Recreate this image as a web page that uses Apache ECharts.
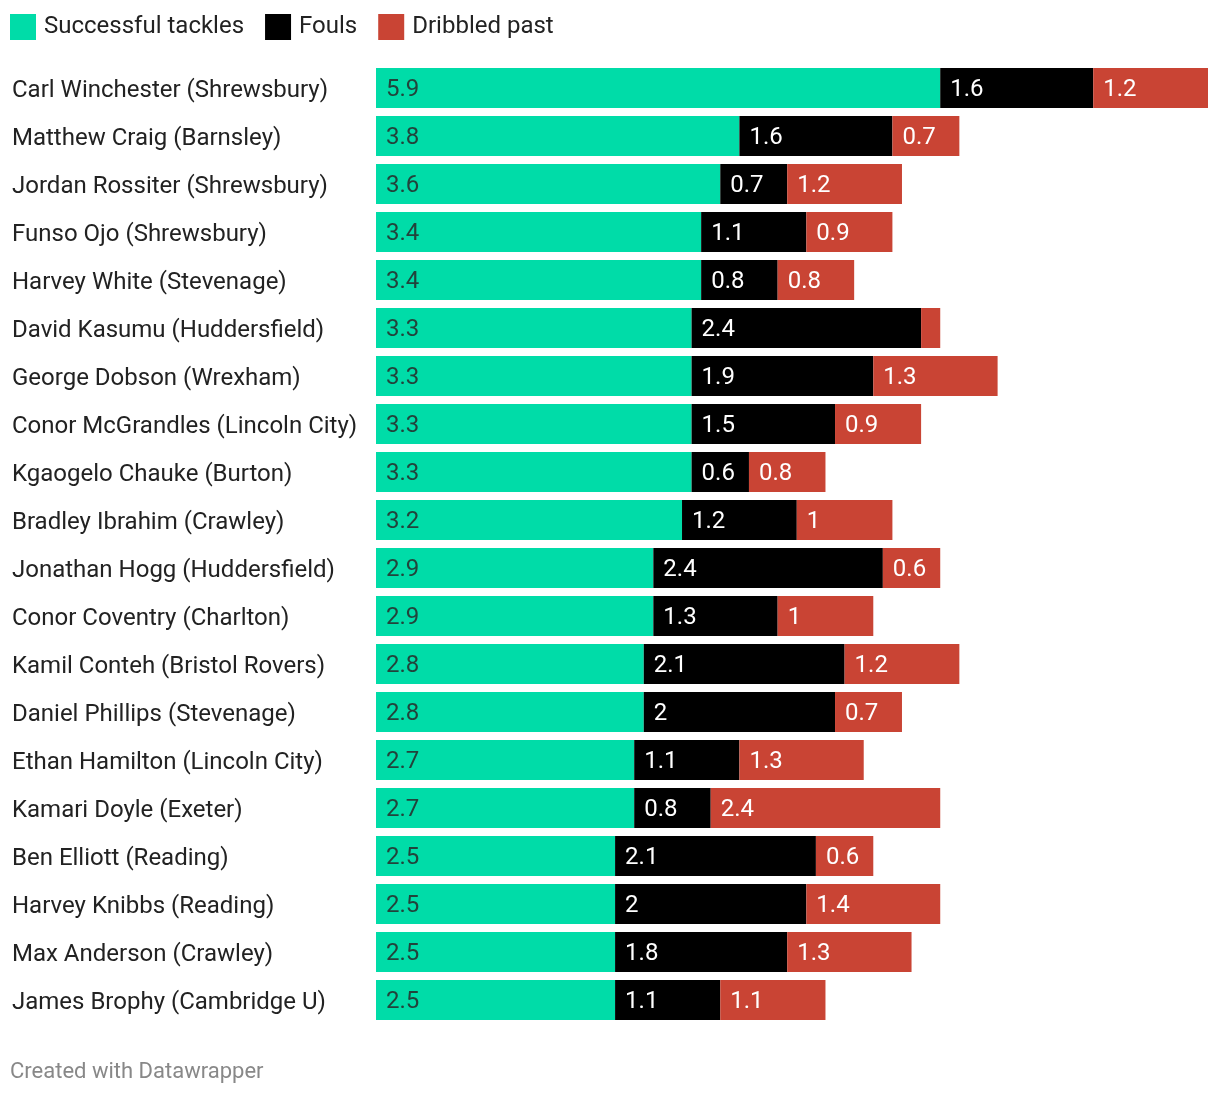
<!DOCTYPE html>
<html><head><meta charset="utf-8">
<script src="https://cdn.jsdelivr.net/npm/echarts@6/dist/echarts.min.js"></script>
<style>html,body{margin:0;padding:0;background:#fff}#c{width:1220px;height:1098px}</style>
</head><body><div id="c"></div>
<script>
const players = ["Carl Winchester (Shrewsbury)","Matthew Craig (Barnsley)","Jordan Rossiter (Shrewsbury)","Funso Ojo (Shrewsbury)","Harvey White (Stevenage)","David Kasumu (Huddersfield)","George Dobson (Wrexham)","Conor McGrandles (Lincoln City)","Kgaogelo Chauke (Burton)","Bradley Ibrahim (Crawley)","Jonathan Hogg (Huddersfield)","Conor Coventry (Charlton)","Kamil Conteh (Bristol Rovers)","Daniel Phillips (Stevenage)","Ethan Hamilton (Lincoln City)","Kamari Doyle (Exeter)","Ben Elliott (Reading)","Harvey Knibbs (Reading)","Max Anderson (Crawley)","James Brophy (Cambridge U)"];
const tackles = [5.9,3.8,3.6,3.4,3.4,3.3,3.3,3.3,3.3,3.2,2.9,2.9,2.8,2.8,2.7,2.7,2.5,2.5,2.5,2.5];
const fouls = [1.6,1.6,0.7,1.1,0.8,2.4,1.9,1.5,0.6,1.2,2.4,1.3,2.1,2,1.1,0.8,2.1,2,1.8,1.1];
const dribbled = [1.2,0.7,1.2,0.9,0.8,0.2,1.3,0.9,0.8,1,0.6,1,1.2,0.7,1.3,2.4,0.6,1.4,1.3,1.1];

const chart = echarts.init(document.getElementById('c'), null, {renderer:'canvas'});
const font = 'Roboto, "Noto Sans", sans-serif';
function mk(name, data, color, labelColor){
  return {
    name, type:'bar', stack:'s', data, barWidth:40,
    itemStyle:{color},
    label:{show:true, position:'insideLeft', distance:10, offset:[0,2], color:labelColor, fontFamily:font, fontSize:24,
      formatter:p => p.value < 0.3 ? '' : String(p.value)},
    emphasis:{disabled:true}
  };
}
chart.setOption({
  animation:false,
  textStyle:{fontFamily:font},
  legend:{left:10, top:14, padding:0, itemWidth:26, itemHeight:26, itemGap:21, icon:'rect',
    textStyle:{fontSize:24, color:'#222', fontFamily:font, padding:[2,0,0,3]},
    data:['Successful tackles','Fouls','Dribbled past']},
  grid:{left:376, right:12, top:64, height:960, containLabel:false},
  xAxis:{type:'value', min:0, max:8.7, show:false},
  yAxis:{type:'category', data:players, inverse:true,
    axisLine:{show:false}, axisTick:{show:false},
    axisLabel:{align:'left', margin:364, fontSize:24, color:'#222', fontFamily:font,
      formatter: v => '{a|' + v + '}',
      rich:{a:{fontSize:24, color:'#222', fontFamily:font, padding:[5,0,0,0]}}}},
  graphic:[{type:'text', left:10, top:1061, style:{text:'Created with Datawrapper', fill:'#888', font:'22px Roboto, sans-serif'}}],
  series:[
    mk('Successful tackles', tackles, '#00dca8', 'rgba(40,40,40,0.85)'),
    mk('Fouls', fouls, '#000000', '#ffffff'),
    mk('Dribbled past', dribbled, '#c94434', '#ffffff')
  ]
});
</script></body></html>
